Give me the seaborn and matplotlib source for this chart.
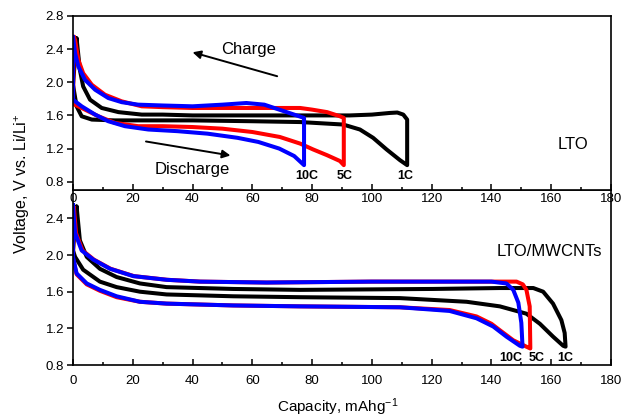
import matplotlib
matplotlib.use("Agg")
import matplotlib.pyplot as plt
from matplotlib.ticker import MultipleLocator, FormatStrFormatter
import seaborn as sns
import pandas as pd

# ---------------- data ----------------
# Top panel: LTO
lto_10c_chg_cap = [0, 0.7, 1.8, 4, 7.4, 11.8, 16.3, 21.8, 30, 40, 50, 58, 64, 69, 74, 77.3]
lto_10c_chg_v = [2.55, 2.35, 2.19, 2.03, 1.91, 1.81, 1.76, 1.73, 1.72, 1.71, 1.73, 1.75, 1.73, 1.67, 1.61, 1.57]
lto_10c_dis_cap = [0, 2.9, 7.4, 11.8, 17.4, 25.2, 35, 45, 55, 62, 69, 74, 77.3]
lto_10c_dis_v = [1.79, 1.71, 1.61, 1.53, 1.47, 1.43, 1.41, 1.38, 1.33, 1.28, 1.20, 1.11, 1.0]

lto_5c_chg_cap = [0.3, 0.7, 1.8, 3.4, 6.3, 10.7, 16.3, 23, 30, 40, 60, 70, 76, 80, 85, 89.3, 90.6]
lto_5c_chg_v = [2.55, 2.51, 2.27, 2.11, 1.97, 1.85, 1.77, 1.71, 1.70, 1.69, 1.69, 1.69, 1.69, 1.67, 1.64, 1.59, 1.57]
lto_5c_dis_cap = [0, 4, 8.5, 14, 21.8, 30, 40, 50, 60, 69.2, 76, 80.3, 85, 89.3, 90.6]
lto_5c_dis_v = [1.74, 1.67, 1.59, 1.51, 1.47, 1.47, 1.46, 1.44, 1.40, 1.34, 1.26, 1.19, 1.12, 1.05, 1.0]

lto_1c_chg_cap = [1.2, 2.3, 3.4, 5.7, 9.6, 15.2, 23, 30, 40, 60, 76, 92.6, 100, 106, 108.5, 110.5, 111.8]
lto_1c_chg_v = [2.53, 2.15, 1.95, 1.79, 1.69, 1.64, 1.61, 1.61, 1.60, 1.60, 1.60, 1.60, 1.61, 1.63, 1.635, 1.61, 1.55]
lto_1c_dis_cap = [0, 1.2, 2.9, 6.3, 14, 40, 60, 76, 90.4, 96, 100.4, 104.9, 109.4, 111.8]
lto_1c_dis_v = [1.97, 1.71, 1.59, 1.55, 1.54, 1.54, 1.53, 1.52, 1.49, 1.43, 1.33, 1.19, 1.06, 1.0]

# Bottom panel: LTO/MWCNTs
cnt_10c_chg_cap = [0, 0.3, 0.7, 2.9, 6.8, 12.4, 20.2, 31.3, 42.5, 64.8, 100, 140, 145, 147.3, 149, 150, 150.4]
cnt_10c_chg_v = [2.55, 2.40, 2.24, 2.05, 1.95, 1.85, 1.77, 1.73, 1.71, 1.70, 1.71, 1.71, 1.69, 1.62, 1.48, 1.26, 1.0]
cnt_10c_dis_cap = [0, 1.2, 4.6, 9, 14.6, 22.4, 31.3, 53.6, 76, 109.4, 126, 135, 140.6, 145, 149.5, 150.4]
cnt_10c_dis_v = [1.98, 1.80, 1.69, 1.62, 1.55, 1.49, 1.47, 1.45, 1.44, 1.43, 1.39, 1.31, 1.22, 1.11, 1.01, 1.0]

cnt_5c_chg_cap = [0.3, 1.0, 3.2, 7, 12.6, 20.4, 31.5, 42.5, 64.8, 100, 140, 148.4, 150.5, 151.7, 152.8, 153]
cnt_5c_chg_v = [2.52, 2.24, 2.05, 1.95, 1.85, 1.77, 1.73, 1.71, 1.70, 1.71, 1.71, 1.71, 1.68, 1.62, 1.44, 1.0]
cnt_5c_dis_cap = [0, 1.2, 4.6, 9, 14.6, 22.4, 31.3, 53.6, 76, 109.4, 126, 135, 140, 142.8, 147.3, 151.7, 153]
cnt_5c_dis_v = [1.96, 1.79, 1.68, 1.61, 1.54, 1.49, 1.47, 1.45, 1.44, 1.43, 1.40, 1.33, 1.25, 1.18, 1.07, 1.0, 0.98]

cnt_1c_chg_cap = [1.2, 2.3, 4.6, 9, 14.6, 22.4, 31.3, 53.6, 76, 120.5, 142.8, 154, 157.3, 160.6, 163.4, 164.5, 164.8]
cnt_1c_chg_v = [2.53, 2.16, 1.98, 1.85, 1.76, 1.69, 1.65, 1.63, 1.62, 1.63, 1.64, 1.64, 1.60, 1.47, 1.29, 1.15, 1.0]
cnt_1c_dis_cap = [0, 0.7, 3.4, 9, 14.6, 22.4, 31.3, 53.6, 76, 109.4, 131.7, 142.8, 151.7, 156.2, 160.6, 164, 164.8]
cnt_1c_dis_v = [2.05, 1.98, 1.84, 1.71, 1.65, 1.60, 1.57, 1.55, 1.54, 1.53, 1.49, 1.44, 1.36, 1.25, 1.11, 1.01, 1.0]

x_ticks = [0, 20, 40, 60, 80, 100, 120, 140, 160, 180]
top_y_ticks = [0.8, 1.2, 1.6, 2.0, 2.4, 2.8]
bot_y_ticks = [0.8, 1.2, 1.6, 2.0, 2.4]

# ---------------- style ----------------
sns.set_theme(style="ticks")
plt.rcParams['font.family'] = ['Liberation Sans', 'DejaVu Sans']
plt.rcParams['mathtext.fontset'] = 'custom'
plt.rcParams['mathtext.rm'] = 'Liberation Sans'
plt.rcParams['mathtext.it'] = 'Liberation Sans'
plt.rcParams['mathtext.default'] = 'regular'
plt.rcParams['axes.edgecolor'] = 'black'
plt.rcParams['xtick.color'] = 'black'
plt.rcParams['ytick.color'] = 'black'
plt.rcParams['text.color'] = 'black'

W, H = 621, 420
fig = plt.figure(figsize=(W / 100, H / 100), dpi=100)
ax_top = fig.add_axes([73 / W, 1 - 190 / H, 538 / W, 174 / H])
ax_bot = fig.add_axes([73 / W, 1 - 365 / H, 538 / W, 175 / H])
ax_top.set_zorder(3)
ax_bot.set_zorder(1)


def loop_frame(chg_cap, chg_v, dis_cap, dis_v):
    cap = list(chg_cap) + list(dis_cap)[::-1] + [chg_cap[0]]
    v = list(chg_v) + list(dis_v)[::-1] + [chg_v[0]]
    return pd.DataFrame({'cap': cap, 'v': v})


LW = 2.9
panels = [
    (ax_top, [(lto_1c_chg_cap, lto_1c_chg_v, lto_1c_dis_cap, lto_1c_dis_v, 'black'),
              (lto_5c_chg_cap, lto_5c_chg_v, lto_5c_dis_cap, lto_5c_dis_v, '#ff0000'),
              (lto_10c_chg_cap, lto_10c_chg_v, lto_10c_dis_cap, lto_10c_dis_v, '#0000ff')]),
    (ax_bot, [(cnt_1c_chg_cap, cnt_1c_chg_v, cnt_1c_dis_cap, cnt_1c_dis_v, 'black'),
              (cnt_5c_chg_cap, cnt_5c_chg_v, cnt_5c_dis_cap, cnt_5c_dis_v, '#ff0000'),
              (cnt_10c_chg_cap, cnt_10c_chg_v, cnt_10c_dis_cap, cnt_10c_dis_v, '#0000ff')]),
]
for ax, loops in panels:
    for cc, cv, dc, dv, col in loops:
        df = loop_frame(cc, cv, dc, dv)
        sns.lineplot(data=df, x='cap', y='v', sort=False, estimator=None,
                     color=col, lw=LW, ax=ax, solid_joinstyle='round',
                     solid_capstyle='round')

for ax in (ax_top, ax_bot):
    ax.set_xlim(0, 180)
    ax.set_xticks(x_ticks)
    ax.xaxis.set_minor_locator(MultipleLocator(10))
    ax.xaxis.set_major_formatter(FormatStrFormatter('%d'))
    ax.yaxis.set_major_formatter(FormatStrFormatter('%.1f'))
    ax.tick_params(axis='x', which='major', direction='in', length=4.5, width=1.1,
                   labelsize=9.5, top=False)
    ax.tick_params(axis='x', which='minor', direction='in', length=2.5, width=1.1, top=False)
    ax.tick_params(axis='y', which='major', direction='out', length=4.5, width=1.1,
                   labelsize=9.5, pad=2, right=False)
    ax.set_xlabel('')
    ax.set_ylabel('')
    for s in ax.spines.values():
        s.set_linewidth(1.2)
        s.set_color('black')
        s.set_visible(True)

ax_top.set_ylim(0.7, 2.8)
ax_top.set_yticks(top_y_ticks)
ax_top.tick_params(axis='x', which='major', pad=2.5)
ax_bot.set_ylim(0.8, 2.71)
ax_bot.set_yticks(bot_y_ticks)
ax_bot.tick_params(axis='x', which='major', pad=7.5)

# annotations
ax_top.text(58.7, 2.39, 'Charge', fontsize=12, ha='center', va='center')
ax_top.text(40.0, 0.95, 'Discharge', fontsize=12, ha='center', va='center')
ax_top.text(167.2, 1.25, 'LTO', fontsize=12, ha='center', va='center')
ax_top.annotate('', xy=(39.1, 2.371), xytext=(69.2, 2.064),
                arrowprops=dict(arrowstyle='-|>', color='black', lw=1.4, mutation_scale=12))
ax_top.annotate('', xy=(53.6, 1.111), xytext=(23.5, 1.291),
                arrowprops=dict(arrowstyle='-|>', color='black', lw=1.4, mutation_scale=12))
ax_top.text(78.2, 0.87, '10C', fontsize=9, fontweight='bold', ha='center', va='center')
ax_top.text(91.0, 0.87, '5C', fontsize=9, fontweight='bold', ha='center', va='center')
ax_top.text(111.0, 0.87, '1C', fontsize=9, fontweight='bold', ha='center', va='center')

ax_bot.text(159.5, 2.036, 'LTO/MWCNTs', fontsize=12, ha='center', va='center')
ax_bot.text(146.4, 0.873, '10C', fontsize=9, fontweight='bold', ha='center', va='center')
ax_bot.text(155.2, 0.873, '5C', fontsize=9, fontweight='bold', ha='center', va='center')
ax_bot.text(164.8, 0.873, '1C', fontsize=9, fontweight='bold', ha='center', va='center')

fig.text(22 / W, 1 - 184 / H, 'Voltage, V vs. Li/Li$^{+}$', rotation=90,
         ha='center', va='center', fontsize=11.5)
fig.text(338 / W, 1 - 407 / H, 'Capacity, mAhg$^{-1}$', ha='center', va='center',
         fontsize=11)

fig.savefig('out.png', dpi=100)
